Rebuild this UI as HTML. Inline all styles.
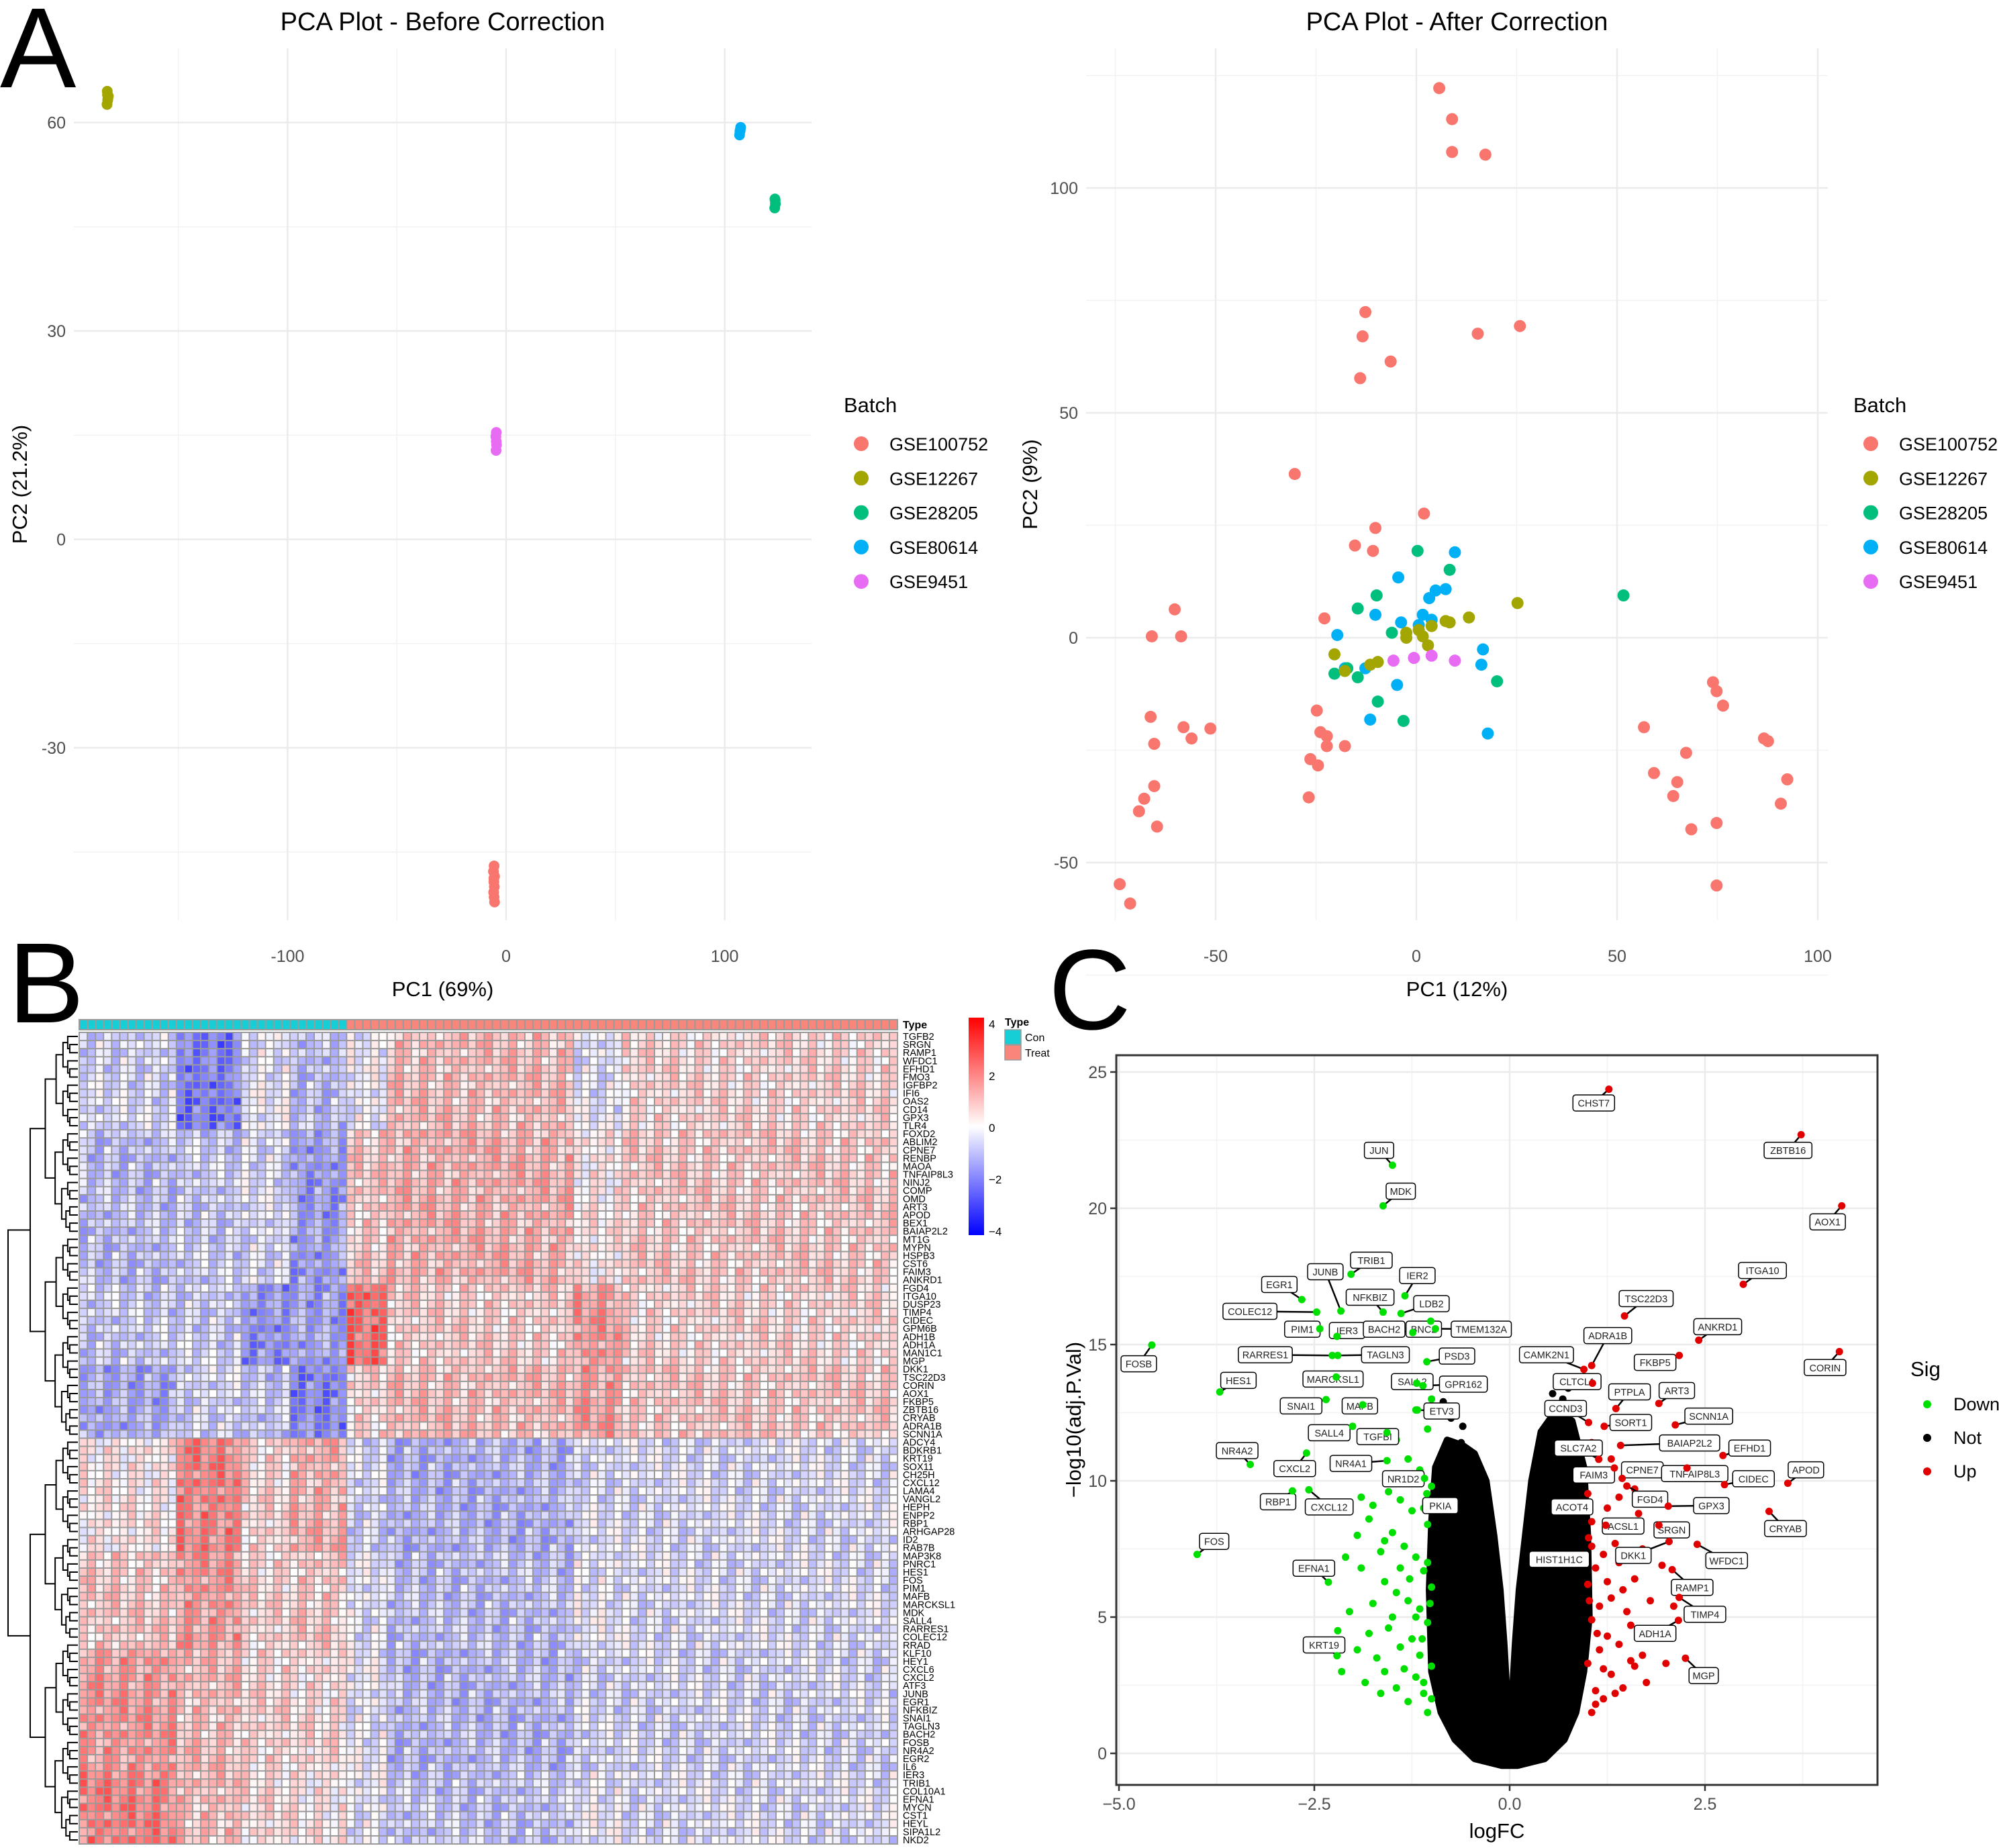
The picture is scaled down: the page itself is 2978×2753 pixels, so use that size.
<!DOCTYPE html>
<html><head><meta charset="utf-8"><style>
html,body{margin:0;padding:0;background:#fff;}
svg{display:block;font-family:"Liberation Sans",Arial,sans-serif;}
</style></head><body>
<svg id="fig" xmlns="http://www.w3.org/2000/svg" width="2978" height="2753" viewBox="0 0 2978 2753">
<rect x="0" y="0" width="2978" height="2753" fill="#fff"/>
<text x="0" y="130" font-size="170">A</text>
<text x="12" y="1523" font-size="170">B</text>
<text x="1562" y="1533" font-size="170">C</text>
</svg>
<script>
// ---------- DATA ----------
const batchNames = ["GSE100752","GSE12267","GSE28205","GSE80614","GSE9451"];
const batchColors = ["#F8766D","#A3A500","#00BF7D","#00B0F6","#E76BF3"];

const beforeX = [-182.5,-182,-182.3,-182.6,-182.2,-182.4, 107,107.3,106.8,107.1, 123,123.2,122.9,123.1, -4.5,-4.7,-4.4,-4.6,-4.5, -5.5,-5.8,-5.3,-5.6,-5.4,-5.7,-5.5,-5.3,-5.6];
const beforeY = [64.5,63.8,63.2,62.6,63.5,64, 58.7,59.3,58.2,58.9, 49,48.3,47.7,48.8, 15.4,14.8,13.6,12.8,14.1, -47,-47.8,-48.5,-49.3,-50,-50.8,-51.5,-52.2,-48.8];
const beforeB = [1,1,1,1,1,1, 3,3,3,3, 2,2,2,2, 4,4,4,4,4, 0,0,0,0,0,0,0,0,0];

const afterX = [5.7,8.9,8.9,17.2,-12.7,-13.4,-6.4,-14,15.3,25.8,-30.3,1.9,-10.2,-15.3,-10.8,-22.9,-60.2,-65.9,-58.6,-66.2,-65.3,-58,-56,-51.3,-65.3,-67.8,-69.1,-64.6,-73.9,-71.3,-24.8,-23.9,-22.3,-22.3,-26.4,-24.5,-17.8,-26.8,56.7,59.2,67.2,65,64,68.5,73.9,74.8,76.4,74.8,74.8,86.6,87.6,92.4,90.8,
 -4.5,9.6,3.2,4.8,7.3,-19.7,-10.2,-3.8,1.6,0.6,-12.7,-17.8,-4.8,-11.5,16.6,16.2,17.8,3.8,
 0.3,8.3,-9.9,-14.6,-6.1,-17.2,-20.4,-14.6,-9.6,-3.2,20.1,51.6,
 25.2,13.1,7.3,8.3,-2.5,-2.5,0.6,1.6,2.9,-20.4,-17.8,-9.6,-11.5,3.8,
 -5.7,-0.6,3.8,9.6];
const afterY = [122.2,115.3,108,107.4,72.4,67,61.4,57.7,67.6,69.3,36.4,27.6,24.4,20.5,19.3,4.3,6.3,0.3,0.3,-17.6,-23.6,-19.9,-22.4,-20.2,-33,-35.8,-38.6,-42,-54.8,-59.1,-16.2,-21,-21.9,-24.1,-27,-28.4,-24.1,-35.5,-19.9,-30.1,-25.6,-32.1,-35.2,-42.6,-9.9,-11.9,-15.1,-41.2,-55.1,-22.4,-23,-31.5,-36.9,
 13.4,19,8.8,10.5,10.8,0.6,5.1,3.4,5.1,2.8,-6.8,-6.8,-10.5,-18.2,-2.6,-6,-21.3,4,
 19.3,15.1,9.4,6.5,1.1,-6.8,-8,-8.8,-14.2,-18.5,-9.7,9.4,
 7.7,4.5,3.7,3.4,1.1,0,1.7,0.3,-1.7,-3.7,-7.4,-5.4,-6,2.6,
 -5.1,-4.5,-4,-5.1];
const afterB = [0,0,0,0,0,0,0,0,0,0,0,0,0,0,0,0,0,0,0,0,0,0,0,0,0,0,0,0,0,0,0,0,0,0,0,0,0,0,0,0,0,0,0,0,0,0,0,0,0,0,0,0,0,
 3,3,3,3,3,3,3,3,3,3,3,3,3,3,3,3,3,3,
 2,2,2,2,2,2,2,2,2,2,2,2,
 1,1,1,1,1,1,1,1,1,1,1,1,1,1,
 4,4,4,4];

const beforeXTicks = [-100,0,100];
const beforeYTicks = [-30,0,30,60];
const afterXTicks = [-50,0,50,100];
const afterYTicks = [-50,0,50,100];

// heatmap
const geneNames = ["TGFB2","SRGN","RAMP1","WFDC1","EFHD1","FMO3","IGFBP2","IFI6","OAS2","CD14","GPX3","TLR4","FOXD2","ABLIM2","CPNE7","RENBP","MAOA","TNFAIP8L3","NINJ2","COMP","OMD","ART3","APOD","BEX1","BAIAP2L2","MT1G","MYPN","HSPB3","CST6","FAIM3","ANKRD1","FGD4","ITGA10","DUSP23","TIMP4","CIDEC","GPM6B","ADH1B","ADH1A","MAN1C1","MGP","DKK1","TSC22D3","CORIN","AOX1","FKBP5","ZBTB16","CRYAB","ADRA1B","SCNN1A","ADCY4","BDKRB1","KRT19","SOX11","CH25H","CXCL12","LAMA4","VANGL2","HEPH","ENPP2","RBP1","ARHGAP28","ID2","RAB7B","MAP3K8","PNRC1","HES1","FOS","PIM1","MAFB","MARCKSL1","MDK","SALL4","RARRES1","COLEC12","RRAD","KLF10","HEY1","CXCL6","CXCL2","ATF3","JUNB","EGR1","NFKBIZ","SNAI1","TAGLN3","BACH2","FOSB","NR4A2","EGR2","IL6","IER3","TRIB1","COL10A1","EFNA1","MYCN","CST1","HEYL","SIPA1L2","NKD2"];
const rowGroupStart = [0,12,31,41,50,64,76,91];
const colGroupSize = [12,8,6,7,5,23,6,34];
const colGroupType = [0,0,0,0,1,1,1,1];
const blockR0 = [-0.6,-2.2,-0.3,-1.0,-0.2,1.0,-0.4,0.6];
const blockR1 = [-1.0,-0.8,-0.5,-1.6,0.8,1.2,0.3,0.8];
const blockR2 = [-0.8,-0.7,-1.8,-1.5,2.4,0.7,1.6,0.6];
const blockR3 = [-1.4,-0.6,-0.9,-2.0,0.6,1.0,1.5,0.8];
const blockR4 = [0.3,2.0,0.6,1.2,-0.6,-1.2,-0.5,-0.5];
const blockR5 = [0.8,1.6,0.6,0.8,-0.4,-1.0,-0.3,-0.5];
const blockR6 = [1.6,1.0,0.6,0.5,-0.3,-1.1,-0.6,-0.6];
const blockR7 = [2.0,1.0,0.5,0.3,-0.3,-0.9,-0.3,-0.5];
const cellNoise = [0.3,-0.5,0.8,-0.2,0.1,-0.9,0.6,-0.4,0.0,0.7,-0.7,0.2,-0.3,0.9,-0.1,0.4,-0.8,0.5,-0.6,0.3,-0.2,1.0,-1.0,0.1,0.6,-0.4,0.2,-0.5,0.8,-0.3,0.0,-0.7,0.4,-0.1,0.7,-0.9,0.5];
const legendTicks = [4,2,0,-2,-4];

// volcano
const volXTicks = [-5.0,-2.5,0.0,2.5];
const volYTicks = [0,5,10,15,20,25];
const labName = ["CHST7","ZBTB16","AOX1","ITGA10","TSC22D3","ANKRD1","CORIN","ADRA1B","CAMK2N1","FKBP5","CLTCL1","ART3","PTPLA","CCND3","SORT1","SCNN1A","BAIAP2L2","EFHD1","APOD","SLC7A2","FAIM3","CPNE7","TNFAIP8L3","CIDEC","CRYAB","FGD4","GPX3","ACOT4","ACSL1","SRGN","HIST1H1C","DKK1","WFDC1","RAMP1","TIMP4","ADH1A","MGP",
 "FOSB","JUN","MDK","TRIB1","IER2","JUNB","EGR1","COLEC12","NFKBIZ","PIM1","IER3","LDB2","BACH2","BNC2","TMEM132A","RARRES1","TAGLN3","PSD3","HES1","MARCKSL1","SALL2","GPR162","SNAI1","MAFB","ETV3","SALL4","TGFBI","NR4A2","CXCL2","NR4A1","NR1D2","RBP1","CXCL12","PKIA","FOS","EFNA1","KRT19"];
const labFC = [1.27,3.73,4.25,2.99,1.47,2.42,4.22,1.05,0.95,2.17,1.06,1.91,1.36,1.01,1.21,2.12,1.42,2.73,3.56,1.14,1.34,1.44,2.27,2.75,3.32,1.50,2.03,1.0,1.23,1.91,1.01,2.04,2.40,2.08,2.17,2.16,2.25,
 -4.58,-1.50,-1.62,-2.03,-1.34,-2.16,-2.66,-2.47,-1.62,-2.43,-2.21,-1.39,-1.24,-1.01,-0.95,-2.27,-2.2,-1.06,-3.71,-2.22,-1.19,-1.11,-2.35,-1.88,-1.18,-2.01,-1.57,-3.32,-2.60,-1.57,-1.09,-2.78,-2.57,-1.06,-4.0,-2.32,-2.21];
const labP = [24.37,22.70,20.09,17.21,16.05,15.16,14.74,14.23,14.09,14.60,13.58,12.84,12.65,12.14,12.0,12.05,11.30,10.93,9.91,10.79,10.47,10.09,10.47,9.86,8.88,9.81,9.07,9.53,8.37,8.37,7.91,7.77,7.67,6.74,5.72,4.88,3.49,
 14.98,21.58,20.09,17.58,16.79,16.23,16.65,16.19,16.19,15.58,15.30,16.14,15.44,15.86,15.58,14.60,14.6,14.37,13.26,13.81,13.58,13.49,12.98,12.79,12.60,12.0,11.77,10.60,11.02,10.74,10.09,9.63,9.67,9.53,7.30,6.28,3.58];
const labSig = [2,2,2,2,2,2,2,2,2,2,2,2,2,2,2,2,2,2,2,2,2,2,2,2,2,2,2,2,2,2,2,2,2,2,2,2,2,
 0,0,0,0,0,0,0,0,0,0,0,0,0,0,0,0,0,0,0,0,0,0,0,0,0,0,0,0,0,0,0,0,0,0,0,0,0];
const downFC = [-1.05,-1.1,-1.2,-1.3,-1.45,-1.6,-1.0,-1.15,-1.25,-1.4,-1.55,-1.7,-1.8,-1.95,-1.05,-1.15,-1.3,-1.45,-1.6,-1.75,-1.9,-2.05,-1.0,-1.1,-1.2,-1.35,-1.5,-1.65,-1.8,-1.95,-1.05,-1.25,-1.4,-1.55,-1.75,-1.0,-1.15,-1.3,-1.45,-1.05,-1.2,-1.0,-1.1,-1.0,-1.35,-1.05,-1.2,-1.5,-1.65,-2.2,-2.1,-1.85,-1.12,-1.28,-1.02,-1.4,-1.6,-1.1,-2.15,-1.9];
const downP = [1.5,2.2,2.8,1.9,2.4,3.0,3.2,3.6,4.2,3.9,4.6,3.5,4.4,3.8,4.8,5.3,5.6,5.9,6.3,5.5,6.8,5.2,6.1,6.7,7.2,7.6,8.1,7.4,8.6,8.0,8.4,8.9,9.3,9.6,9.1,9.8,10.4,10.8,11.5,11.9,12.6,13.0,2.6,2.0,3.1,7.0,5.0,5.0,2.2,4.5,7.2,2.6,4.2,6.4,5.5,6.8,7.8,9.0,3.0,9.4];
const upFC = [1.05,1.1,1.2,1.3,1.45,1.6,1.0,1.15,1.25,1.4,1.55,1.7,1.85,1.05,1.15,1.3,1.45,1.6,1.8,1.0,1.1,1.2,1.35,1.5,1.7,1.05,1.25,1.4,1.6,1.1,1.3,1.05,1.2,1.1,1.02,1.25,1.5,1.65,1.95,2.0,1.35,1.75,1.12,1.4,1.9,2.1,1.05,1.55];
const upP = [1.5,2.3,2.0,2.9,2.4,3.2,3.3,3.8,4.3,4.0,4.7,3.6,4.5,4.9,5.4,5.7,6.0,6.4,5.6,6.2,6.8,7.3,7.7,8.2,7.5,8.5,9.0,9.4,9.7,10.3,10.8,11.4,3.1,1.8,5.6,6.3,5.2,8.8,6.9,3.3,2.2,2.6,4.4,7.0,8.3,5.4,7.6,3.4];
const notOutlineFC = [-0.1,-0.45,-0.7,-0.88,-1.0,-1.03,-1.0,-0.95,-0.8,-0.6,-0.45,-0.3,-0.2,-0.12,-0.07,-0.03,0,0.03,0.07,0.12,0.2,0.28,0.4,0.6,0.8,0.95,1.0,1.02,0.95,0.85,0.7,0.45,0.1];
const notOutlineP = [-0.45,-0.2,0.5,1.5,3,6,8.5,10.5,11.5,11.3,11,10,8,6,4,2,1,2,4,6,8,10,11.8,12.6,12.2,10.5,8,5,3,1.5,0.5,-0.2,-0.45];
const notExtraFC = [-0.75,-0.6,-0.62,-0.85,-0.7,0.6,0.75,0.9,0.55,0.68];
const notExtraP = [12.3,12.0,11.4,12.9,12.6,12.8,13.4,12.8,13.2,13.0];
const sigNames = ["Down","Not","Up"];
const sigColors = ["#00E000","#000000","#E00000"];

// label box centers (layout)
const labBoxX = [1247,1399,1430,1379,1288,1344,1428,1258,1210,1295,1234,1312,1275,1225,1276,1337,1322,1369,1413,1235,1247,1285,1326,1372,1397,1291,1339,1230,1270,1308,1220,1278,1351,1324,1334,1295,1333,
 891,1079,1096,1073,1109,1037,1001,978,1072,1019,1054,1120,1083,1114,1159,990,1084,1140,969,1043,1105,1145,1018,1064,1128,1040,1078,968,1013,1057,1098,1000,1040,1127,950,1028,1036];
const labBoxY = [863,900,956,994,1016,1038,1070,1045,1060,1066,1081,1088,1089,1102,1113,1108,1129,1133,1150,1133,1154,1150,1153,1157,1196,1173,1178,1179,1194,1197,1220,1217,1221,1242,1263,1278,1311,
 1067,900,932,986,998,995,1005,1026,1015,1040,1041,1020,1040,1040,1040,1060,1060,1061,1080,1079,1081,1083,1100,1100,1104,1121,1124,1135,1149,1145,1157,1175,1179,1178,1206,1227,1287];

// ---------- HELPERS ----------
const NS = "http://www.w3.org/2000/svg";
const svg = document.getElementById("fig");
function mk(tag, attrs, parent) {
  const e = document.createElementNS(NS, tag);
  for (const k in attrs) e.setAttribute(k, attrs[k]);
  (parent || svg).appendChild(e);
  return e;
}
function txt(s, attrs, parent) { const e = mk("text", attrs, parent); e.textContent = s; return e; }

// ---------- PCA ----------
function pcaPanel(cfg) {
  const g = mk("g", {});
  
  
  const X = v => cfg.x0 + cfg.sx * v, Y = v => cfg.y0 - cfg.sy * v;
  cfg.minorX.forEach(v => { const l = mk("line", {x1:X(v),x2:X(v),y1:cfg.top,y2:cfg.bot,stroke:"#F2F2F2","stroke-width":1.5}, g);
    
     });
  cfg.minorY.forEach(v => { const l = mk("line", {x1:cfg.left,x2:cfg.right,y1:Y(v),y2:Y(v),stroke:"#F2F2F2","stroke-width":1.5}, g);
    
     });
  cfg.xt.forEach(v => {
    const l = mk("line", {x1:X(v),x2:X(v),y1:cfg.top,y2:cfg.bot,stroke:"#EBEBEB","stroke-width":2.5}, g);
    
    
    const t = txt(String(v), {x:X(v),y:cfg.bot+62,"font-size":25,fill:"#4D4D4D","text-anchor":"middle"}, g);
    
    
  });
  cfg.yt.forEach(v => {
    const l = mk("line", {x1:cfg.left,x2:cfg.right,y1:Y(v),y2:Y(v),stroke:"#EBEBEB","stroke-width":2.5}, g);
    
    
    const t = txt(String(v), {x:cfg.left-12,y:Y(v)+9,"font-size":25,fill:"#4D4D4D","text-anchor":"end"}, g);
    
    
  });
  cfg.px.forEach((v, i) => {
    const c = mk("circle", {cx:X(v),cy:Y(cfg.py[i]),r:cfg.r,fill:batchColors[cfg.pb[i]]}, g);
    
    
  });
  const t1 = txt(cfg.title, {x:(cfg.left+cfg.right)/2,y:45,"font-size":38,"text-anchor":"middle"}, g);
  
  
  const t2 = txt(cfg.xlab, {x:(cfg.left+cfg.right)/2,y:1484,"font-size":31,"text-anchor":"middle"}, g);
  
  
  const cy = (cfg.top+cfg.bot)/2;
  const t3 = txt(cfg.ylab, {x:cfg.ylx,y:cy,"font-size":31,"text-anchor":"middle",transform:`rotate(-90 ${cfg.ylx} ${cy})`}, g);
  
  
  const lt = txt("Batch", {x:cfg.lgx,y:614,"font-size":31}, g);
  
  
  batchNames.forEach((b, i) => {
    const yy = 661 + i*51.3;
    const c = mk("circle", {cx:cfg.lgx+26,cy:yy,r:11,fill:batchColors[i]}, g);
    
    
    const t = txt(b, {x:cfg.lgx+68,y:yy+10,"font-size":27}, g);
    
    
  });
}
pcaPanel({name:"pca-before-panel",x0:754,sx:3.256,y0:803.5,sy:10.35,left:110,right:1209,top:72,bot:1371,
  xt:beforeXTicks,yt:beforeYTicks,minorX:[-150,-50,50],minorY:[-45,-15,15,45],
  px:beforeX,py:beforeY,pb:beforeB,r:8,title:"PCA Plot - Before Correction",xlab:"PC1 (69%)",ylab:"PC2 (21.2%)",ylx:40,lgx:1257});
pcaPanel({name:"pca-after-panel",x0:2110,sx:5.98,y0:950,sy:6.7,left:1618,right:2723,top:72,bot:1371,
  xt:afterXTicks,yt:afterYTicks,minorX:[-75,-25,25,75],minorY:[-75,-25,25,75,125].filter(v=>v<130),
  px:afterX,py:afterY,pb:afterB,r:9,title:"PCA Plot - After Correction",xlab:"PC1 (12%)",ylab:"PC2 (9%)",ylx:1545,lgx:2761});

// ---------- HEATMAP ----------
const hm = mk("g", {});


const HX0 = 118, HY0 = 1538, CW = 12.07, RH = 12.09;
const blocks = [blockR0,blockR1,blockR2,blockR3,blockR4,blockR5,blockR6,blockR7];
const nCols = colGroupSize.reduce((a,b)=>a+b,0);
const colGroupOf = [];
colGroupSize.forEach((s,gi)=>{ for(let i=0;i<s;i++) colGroupOf.push(gi); });
function rowGroupOf(r){ let g=0; rowGroupStart.forEach((s,i)=>{ if(r>=s) g=i; }); return g; }
function colorOf(v){ v=Math.max(-4,Math.min(4,v)); const f=Math.abs(v)/4; const w=Math.round(255*(1-f));
  return v>=0 ? `rgb(255,${w},${w})` : `rgb(${w},${w},255)`; }
const hbg = mk("rect", {x:HX0-1,y:HY0-1,width:nCols*CW+2,height:geneNames.length*RH+2,fill:"#9A9A9A"}, hm);


geneNames.forEach((gname, r) => {
  const rg = rowGroupOf(r);
  for (let c = 0; c < nCols; c++) {
    const v = blocks[rg][colGroupOf[c]] + 0.9*cellNoise[(r*11 + c*5) % cellNoise.length];
    const cell = mk("rect", {x:HX0+c*CW+1,y:HY0+r*RH+1,width:CW-2,height:RH-2,fill:colorOf(v)}, hm);
    
    
  }
  const t = txt(gname, {x:1345,y:HY0+r*RH+11,"font-size":14.5}, hm);
  
  
});
const abg = mk("rect", {x:HX0-1,y:1518,width:nCols*CW+2,height:17,fill:"#9A9A9A"}, hm);


for (let c = 0; c < nCols; c++) {
  const a = mk("rect", {x:HX0+c*CW+1,y:1520,width:CW-2,height:13,fill:colGroupType[colGroupOf[c]]?"#F8867B":"#16CED6"}, hm);
  
  
}
const at = txt("Type", {x:1345,y:1532,"font-size":16,"font-weight":"bold"}, hm);


// dendrogram
const dg = mk("g", {fill:"none",stroke:"#000","stroke-width":2}, hm);


function dendro(a, b) {
  if (b - a === 1) return {x: HX0 - 2, y: HY0 + a*RH + RH/2};
  const m = (a === 0 && b === geneNames.length) ? 50 : Math.floor((a+b)/2);
  const L = dendro(a, m), R = dendro(m, b);
  const h = HX0 - 2 - 104*Math.pow((b-a)/geneNames.length, 0.55);
  const p = mk("path", {d:`M${L.x},${L.y}H${h}V${R.y}H${R.x}`}, dg);
  
  
  return {x:h, y:(L.y+R.y)/2};
}
dendro(0, geneNames.length);
// color legend
const defs = mk("defs", {});
const lg = mk("linearGradient", {id:"hmgrad",x1:0,y1:0,x2:0,y2:1}, defs);
mk("stop", {offset:"0",  "stop-color":"#FF0000"}, lg);
mk("stop", {offset:"0.5","stop-color":"#FFFFFF"}, lg);
mk("stop", {offset:"1",  "stop-color":"#0000FF"}, lg);
const cb = mk("rect", {x:1443,y:1516,width:23,height:324,fill:"url(#hmgrad)"}, hm);


legendTicks.forEach(v => {
  const yy = 1680 - v*38.6;
  const t = txt(String(v).replace("-","\u2212"), {x:1473,y:yy+6,"font-size":17}, hm);
  
  
});
const tl = txt("Type", {x:1497,y:1528,"font-size":16,"font-weight":"bold"}, hm);


const k1 = mk("rect", {x:1497,y:1534,width:24,height:22,fill:"#16CED6",stroke:"#9A9A9A","stroke-width":1.5}, hm);


const k2 = mk("rect", {x:1497,y:1557,width:24,height:22,fill:"#F8867B",stroke:"#9A9A9A","stroke-width":1.5}, hm);


const k1t = txt("Con", {x:1527,y:1551,"font-size":16}, hm);


const k2t = txt("Treat", {x:1527,y:1574,"font-size":16}, hm);



// ---------- VOLCANO ----------
const vg = mk("g", {});


const VX = v => 2249 + 116.4*v, VY = v => 2612 - 40.6*v;
const VL = 1663, VR = 2797, VT = 1572, VB = 2659;
[-3.75,-1.25,1.25,3.75].forEach(v => { const l = mk("line", {x1:VX(v),x2:VX(v),y1:VT,y2:VB,stroke:"#F2F2F2","stroke-width":1.5}, vg);
  
   });
[2.5,7.5,12.5,17.5,22.5].forEach(v => { const l = mk("line", {x1:VL,x2:VR,y1:VY(v),y2:VY(v),stroke:"#F2F2F2","stroke-width":1.5}, vg);
  
   });
volXTicks.forEach(v => {
  const l = mk("line", {x1:VX(v),x2:VX(v),y1:VT,y2:VB,stroke:"#EBEBEB","stroke-width":2.5}, vg);
  
  
  const tk = mk("line", {x1:VX(v),x2:VX(v),y1:VB,y2:VB+9,stroke:"#333","stroke-width":2.5}, vg);
  
  
  const t = txt(v.toFixed(1).replace("-","\u2212"), {x:VX(v),y:2696,"font-size":25,fill:"#4D4D4D","text-anchor":"middle"}, vg);
  
  
});
volYTicks.forEach(v => {
  const l = mk("line", {x1:VL,x2:VR,y1:VY(v),y2:VY(v),stroke:"#EBEBEB","stroke-width":2.5}, vg);
  
  
  const tk = mk("line", {x1:VL-9,x2:VL,y1:VY(v),y2:VY(v),stroke:"#333","stroke-width":2.5}, vg);
  
  
  const t = txt(String(v), {x:VL-14,y:VY(v)+9,"font-size":25,fill:"#4D4D4D","text-anchor":"end"}, vg);
  
  
});
// not-significant cloud
let d = "";
notOutlineFC.forEach((v,i) => { d += (i?"L":"M") + VX(v).toFixed(1) + "," + VY(notOutlineP[i]).toFixed(1); });
const cloud = mk("path", {d:d+"Z",fill:"#000",stroke:"#000","stroke-width":10,"stroke-linejoin":"round"}, vg);


notExtraFC.forEach((v,i) => {
  const c = mk("circle", {cx:VX(v),cy:VY(notExtraP[i]),r:5.5,fill:"#000"}, vg);
  
  
});
downFC.forEach((v,i) => {
  const c = mk("circle", {cx:VX(v),cy:VY(downP[i]),r:5.5,fill:sigColors[0]}, vg);
  
  
});
upFC.forEach((v,i) => {
  const c = mk("circle", {cx:VX(v),cy:VY(upP[i]),r:5.5,fill:sigColors[2]}, vg);
  
  
});
// labeled genes
const lblG = mk("g", {}, vg);


labName.forEach((n,i) => {
  const px = VX(labFC[i]), py = VY(labP[i]);
  const bx = labBoxX[i]*1.904, by = labBoxY[i]*1.904;
  const ln = mk("line", {x1:px,y1:py,x2:bx,y2:by,stroke:"#000","stroke-width":2.5}, lblG);
  
  
  const c = mk("circle", {cx:px,cy:py,r:5.5,fill:sigColors[labSig[i]]}, vg);
  
  
});
labName.forEach((n,i) => {
  const bx = labBoxX[i]*1.904, by = labBoxY[i]*1.904;
  const w = n.length*9.2 + 16;
  const r = mk("rect", {x:bx-w/2,y:by-12,width:w,height:24,rx:4,fill:"#fff",stroke:"#000","stroke-width":1.5}, lblG);
  
  
  const t = txt(n, {x:bx,y:by+5.5,"font-size":14.5,"text-anchor":"middle",fill:"#222"}, lblG);
  
  
});
const frame = mk("rect", {x:VL,y:VT,width:VR-VL,height:VB-VT,fill:"none",stroke:"#333","stroke-width":3}, vg);


const vxt = txt("logFC", {x:(VL+VR)/2,y:2738,"font-size":31,"text-anchor":"middle"}, vg);


const vyt = txt("\u2212log10(adj.P.Val)", {x:1610,y:2115,"font-size":31,"text-anchor":"middle",transform:"rotate(-90 1610 2115)"}, vg);


const st = txt("Sig", {x:2846,y:2050,"font-size":31}, vg);


sigNames.forEach((s,i) => {
  const yy = 2092 + i*50;
  const c = mk("circle", {cx:2871,cy:yy,r:6,fill:sigColors[i]}, vg);
  
  
  const t = txt(s, {x:2910,y:yy+9,"font-size":27}, vg);
  
  
});
</script>
</body></html>
